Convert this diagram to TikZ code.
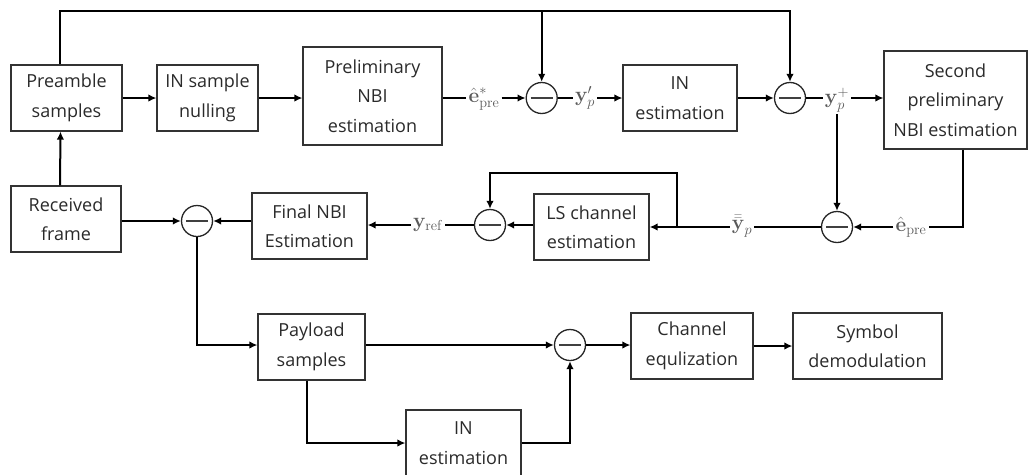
\documentclass[tikz,border=0pt]{standalone}
\usepackage[no-math]{fontspec}
\setmainfont{Open Sans}
\usetikzlibrary{arrows.meta}
\definecolor{txt}{HTML}{2A2A2A}
\definecolor{edge}{HTML}{333333}
\definecolor{mlab}{HTML}{5A5A5A}
\tikzset{
  blk/.style={draw=edge, line width=1.2pt, align=center, inner sep=0pt,
    text=txt, font=\fontsize{18}{29.5}\selectfont},
  sub/.style={circle, draw=black!85, line width=1.3pt, minimum size=31pt, inner sep=0pt,
    path picture={\draw[line width=2.6pt, black!75]
      ([xshift=-11pt]path picture bounding box.center) --
      ([xshift=11pt]path picture bounding box.center);}},
  sig/.style={inner sep=2pt, text=mlab, font=\fontsize{21}{24}\selectfont},
  wire/.style={line width=2pt, black},
  arr/.style={wire, -{Latex[length=8pt,width=7.5pt]}}
}
\begin{document}
\begin{tikzpicture}[x=1pt, y=-1pt]
\useasboundingbox (0,0) rectangle (1030,474);

% processing blocks
\node[blk, minimum width=111pt, minimum height=66pt] (pre)  at (66.5,98)  {Preamble\\samples};
\node[blk, minimum width=101pt, minimum height=66pt] (null) at (207.5,98) {IN sample\\nulling};
\node[blk, minimum width=139pt, minimum height=98pt] (prel) at (372.5,96) {Preliminary\\NBI\\estimation};
\node[blk, minimum width=114pt, minimum height=66pt] (in1)  at (680,98)   {IN\\estimation};
\node[blk, minimum width=143pt, minimum height=98pt] (sec)  at (955.5,100) {Second\\preliminary\\NBI estimation};
\node[blk, minimum width=110pt, minimum height=66pt] (rec)  at (66,219)   {Received\\frame};
\node[blk, minimum width=115pt, minimum height=66pt] (fin)  at (309.5,226) {Final NBI\\Estimation};
\node[blk, minimum width=115pt, minimum height=66pt] (ls)   at (591.5,227) {LS channel\\estimation};
\node[blk, minimum width=107pt, minimum height=66pt] (pay)  at (311.5,347) {Payload\\samples};
\node[blk, minimum width=115pt, minimum height=66pt] (in2)  at (463.5,443) {IN\\estimation};
\node[blk, minimum width=122pt, minimum height=66pt] (chan) at (692,346)  {Channel\\equlization};
\node[blk, minimum width=149pt, minimum height=66pt] (sym)  at (867.5,346) {Symbol\\demodulation};

% subtractors
\node[sub] (s1) at (541.7,98) {};
\node[sub] (s2) at (790,98) {};
\node[sub] (s3) at (197,221) {};
\node[sub] (s4) at (490,225) {};
\node[sub] (s5) at (837,227) {};
\node[sub] (s6) at (570,345) {};

% signal labels
\node[sig] (estar)  at (484,99)  {$\hat{\mathbf{e}}^{*}_{\mathrm{pre}}$};
\node[sig] (yprime) at (585,98)  {$\mathbf{y}^{\prime}_{p}$};
\node[sig] (yplus)  at (837,100) {$\mathbf{y}^{+}_{p}$};
\node[sig] (ybar)   at (742,226) {$\bar{\bar{\mathbf{y}}}_{p}$};
\node[sig] (epre)   at (911,227) {$\hat{\mathbf{e}}_{\mathrm{pre}}$};
\node[sig] (yref)   at (428,225) {$\mathbf{y}_{\mathrm{ref}}$};

% bend points
\coordinate (topL) at (60,11);
\coordinate (topR) at (790,11);
\coordinate (loopR) at (677,173);
\coordinate (secC) at (963,227);

% first row
\draw[arr] (pre.east) -- (null.west);
\draw[arr] (null.east) -- (null.east -| prel.west);
\draw[wire] (prel.east |- s1) -- (s1 -| estar.west);
\draw[arr] (estar.east |- s1) -- (s1.west);
\draw[wire] (s1.east) -- (s1 -| yprime.west);
\draw[arr] (yprime.east |- s1) -- (in1.west);
\draw[arr] (in1.east) -- (s2.west);
\draw[wire] (s2.east) -- (s2 -| yplus.west);
\draw[arr] (yplus.east |- s2) -- (s2 -| sec.west);

% preamble feedback over the top
\draw[arr] ([xshift=-6.5pt]pre.north) -- (topL) -- (topR) -- (s2.north);
\draw[arr] (s1.north |- topL) -- (s1.north);

% second row
\draw[arr] (yplus.south) -- (s5.north);
\draw[wire] (sec.south -| secC) -- (secC) -- (secC -| epre.east);
\draw[arr] (epre.west |- s5) -- (s5.east);
\draw[wire] (s5.west) -- (s5 -| ybar.east);
\draw[arr] (ybar.west |- s5) -- (ls.east |- s5);
\draw[arr] (s5 -| loopR) -- (loopR) -| (s4.north);
\draw[arr] (ls.west |- s4) -- (s4.east);
\draw[wire] (s4.west) -- (s4 -| yref.east);
\draw[arr] (yref.west |- s4) -- (fin.east |- s4);
\draw[arr] (fin.west |- s3) -- (s3.east);
\draw[arr] (rec.east |- s3) -- (s3.west);
\draw[arr] ([xshift=-6pt]rec.north) -- ([xshift=-6pt]pre.south);

% payload path
\draw[arr] (s3.south) |- ([yshift=2pt]pay.west);
\draw[arr] (pay.east |- s6) -- (s6.west);
\draw[arr] ([xshift=-4.5pt]pay.south) |- (in2.west);
\draw[arr] (in2.east) -| (s6.south);
\draw[arr] (s6.east) -- (chan.west |- s6);
\draw[arr] (chan.east) -- (sym.west);
\end{tikzpicture}
\end{document}
